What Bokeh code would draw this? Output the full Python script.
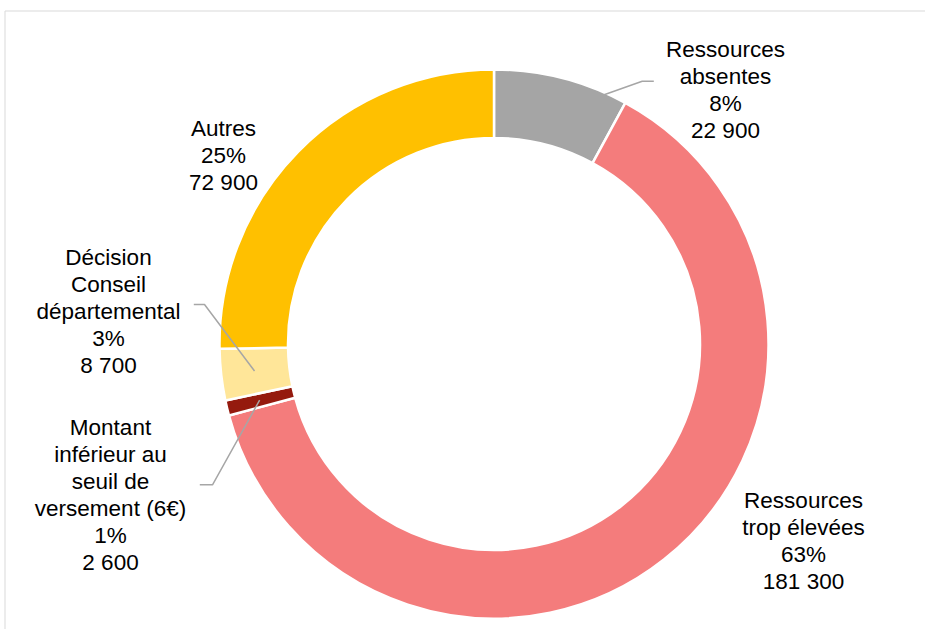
import math
from bokeh.plotting import figure
from bokeh.models import Range1d, ColumnDataSource
from bokeh.core.properties import value
from bokeh.embed import file_html
from bokeh.resources import INLINE

# ---- data (clockwise from 12 o'clock) ----
categories = ["Ressources absentes", "Ressources trop élevées",
              "Montant inférieur au seuil de versement (6€)",
              "Décision Conseil départemental", "Autres"]
counts = [22900, 181300, 2600, 8700, 72900]
percent_labels = ["8%", "63%", "1%", "3%", "25%"]
count_labels = ["22 900", "181 300", "2 600", "8 700", "72 900"]
name_lines = [["Ressources", "absentes"],
              ["Ressources", "trop élevées"],
              ["Montant", "inférieur au", "seuil de", "versement (6€)"],
              ["Décision", "Conseil", "départemental"],
              ["Autres"]]
colors = ["#A5A5A5", "#F47C7C", "#951A0E", "#FFE699", "#FFC000"]

# ---- layout (pixel-like data units, donut centre at 0,0) ----
W, H = 925, 629
X0, X1 = -493.5, 431.5
Y0, Y1 = -285.5, 343.5
R_OUT, R_IN = 274.5, 206.0
label_pos = [(231.5, 294.5), (309.5, -156.5), (-383.5, -83.5), (-385.5, 86.5), (-270.5, 215.5)]
LINE_GAP = 27.0
# leader: (fraction along slice, radius, elbow, end) or None
leaders = [(0.83, 272.0, (148.2, 262.8), (159.8, 262.8)),
           None,
           (0.5, 241.0, (-281.5, -140.8), (-294.2, -140.8)),
           (0.5, 241.0, (-289.5, 39.5), (-300.2, 39.5)),
           None]
BORDER_X, BORDER_Y = -489.0, 333.0

total = float(sum(counts))
starts, ends = [], []
cum = 0.0
for c in counts:
    a0 = math.pi / 2 - 2 * math.pi * cum / total
    cum += c
    a1 = math.pi / 2 - 2 * math.pi * cum / total
    starts.append(a0)
    ends.append(a1)

src = ColumnDataSource(dict(start=starts, end=ends, color=colors, cat=categories))

p = figure(width=W, height=H, output_backend="svg", toolbar_location=None,
           x_range=Range1d(X0, X1), y_range=Range1d(Y0, Y1),
           min_border_left=0, min_border_right=0, min_border_bottom=0, min_border_top=0)
p.axis.visible = False
p.grid.visible = False
p.outline_line_color = None
p.background_fill_color = "white"

# chart-area border (top and left edges visible in the window)
p.segment(x0=[BORDER_X, BORDER_X], y0=[BORDER_Y, BORDER_Y], x1=[X1 + 5, BORDER_X], y1=[BORDER_Y, Y0 - 5],
          line_color="#D9D9D9", line_width=1)

p.annular_wedge(x=0, y=0, inner_radius=R_IN, outer_radius=R_OUT,
                start_angle="start", end_angle="end", direction="clock",
                fill_color="color", line_color="white", line_width=2.5, source=src)

# leader lines
for i, ld in enumerate(leaders):
    if ld is None:
        continue
    frac, r, elbow, end = ld
    ang = starts[i] + frac * (ends[i] - starts[i])
    sx, sy = r * math.cos(ang), r * math.sin(ang)
    p.line(x=[sx, elbow[0], end[0]], y=[sy, elbow[1], end[1]],
           line_color="#A6A6A6", line_width=1.5)

# labels
xs, ys, txt = [], [], []
for i in range(len(categories)):
    lines = name_lines[i] + [percent_labels[i], count_labels[i]]
    lx, ly = label_pos[i]
    for k, t in enumerate(lines):
        xs.append(lx)
        ys.append(ly - k * LINE_GAP)
        txt.append(t)
p.text(x=xs, y=ys, text=txt, text_align="center", text_baseline="alphabetic",
       text_font=value("Liberation Sans"), text_font_size="22.5px", text_color="#000000")

open("out.html", "w").write(file_html(p, INLINE))
